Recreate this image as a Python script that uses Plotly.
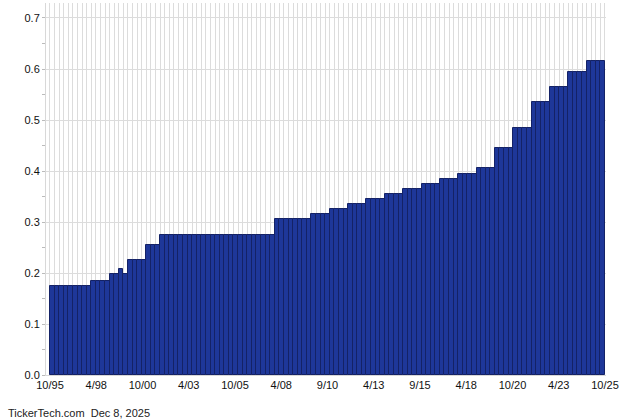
import plotly.graph_objects as go

# Quarterly dividend per share, 10/95 .. 10/25
dividends = [
    0.175, 0.175, 0.175, 0.175, 0.175, 0.175, 0.175, 0.175, 0.175,
    0.185, 0.185, 0.185, 0.185,
    0.1975, 0.1975, 0.2075, 0.1975,
    0.225, 0.225, 0.225, 0.225,
    0.255, 0.255, 0.255,
    0.275, 0.275, 0.275, 0.275, 0.275, 0.275, 0.275, 0.275, 0.275, 0.275,
    0.275, 0.275, 0.275, 0.275, 0.275, 0.275, 0.275, 0.275, 0.275, 0.275,
    0.275, 0.275, 0.275, 0.275, 0.275,
    0.305, 0.305, 0.305, 0.305, 0.305, 0.305, 0.305, 0.305,
    0.315, 0.315, 0.315, 0.315,
    0.325, 0.325, 0.325, 0.325,
    0.335, 0.335, 0.335, 0.335,
    0.345, 0.345, 0.345, 0.345,
    0.355, 0.355, 0.355, 0.355,
    0.365, 0.365, 0.365, 0.365,
    0.375, 0.375, 0.375, 0.375,
    0.385, 0.385, 0.385, 0.385,
    0.395, 0.395, 0.395, 0.395,
    0.405, 0.405, 0.405, 0.405,
    0.445, 0.445, 0.445, 0.445,
    0.485, 0.485, 0.485, 0.485,
    0.535, 0.535, 0.535, 0.535,
    0.565, 0.565, 0.565, 0.565,
    0.595, 0.595, 0.595, 0.595,
    0.615, 0.615, 0.615, 0.615,
]
tick_labels = ["10/95", "4/98", "10/00", "4/03", "10/05", "4/08", "9/10",
               "4/13", "9/15", "4/18", "10/20", "4/23", "10/25"]

n = len(dividends)
x = list(range(n))
# labels run from the left edge of the first bar to the right edge of the last
step = n / (len(tick_labels) - 1)
tick_pos = [-0.5 + i * step for i in range(len(tick_labels))]

fig = go.Figure(go.Bar(
    x=x,
    y=dividends,
    marker=dict(color='#1e3799', line=dict(color='#142266', width=1)),
    hovertemplate='%{y:.4f}<extra></extra>'
))

fig.update_layout(
    width=640,
    height=420,
    margin=dict(l=46, r=34, t=3, b=45),
    paper_bgcolor='white',
    plot_bgcolor='white',
    bargap=0,
    showlegend=False,
    font=dict(family='Liberation Sans, Arial, sans-serif', size=11, color='#111'),
    xaxis=dict(
        range=[-1.37, n - 0.28],
        tickmode='array',
        tickvals=tick_pos,
        ticktext=tick_labels,
        showgrid=False,
        ticks='',
        showline=True,
        linecolor='#d8d8d8',
        linewidth=1,
        zeroline=False,
        minor=dict(tickmode='linear', tick0=-0.5, dtick=1, showgrid=True,
                   gridcolor='#dcdcdc', gridwidth=1, ticks=''),
    ),
    yaxis=dict(
        range=[0, 0.7294],
        dtick=0.1,
        tickformat='.1f',
        showgrid=True,
        gridcolor='#dcdcdc',
        gridwidth=1,
        ticks='outside',
        ticklen=3,
        tickcolor='#bbbbbb',
        zeroline=False,
        showline=True,
        linecolor='#d8d8d8',
        minor=dict(dtick=0.05, ticks='outside', ticklen=3, tickcolor='#bbbbbb'),
    ),
    annotations=[dict(
        text='TickerTech.com  Dec 8, 2025',
        xref='paper', yref='paper',
        x=-0.072, y=-0.102,
        xanchor='left', yanchor='middle',
        showarrow=False,
        font=dict(size=11, color='#222'),
    )],
)

# drop the browser's default body margin so the figure sits at the window corner
fig.write_html("out.html", config={'displayModeBar': False},
               post_script="document.body.style.margin='0';")
